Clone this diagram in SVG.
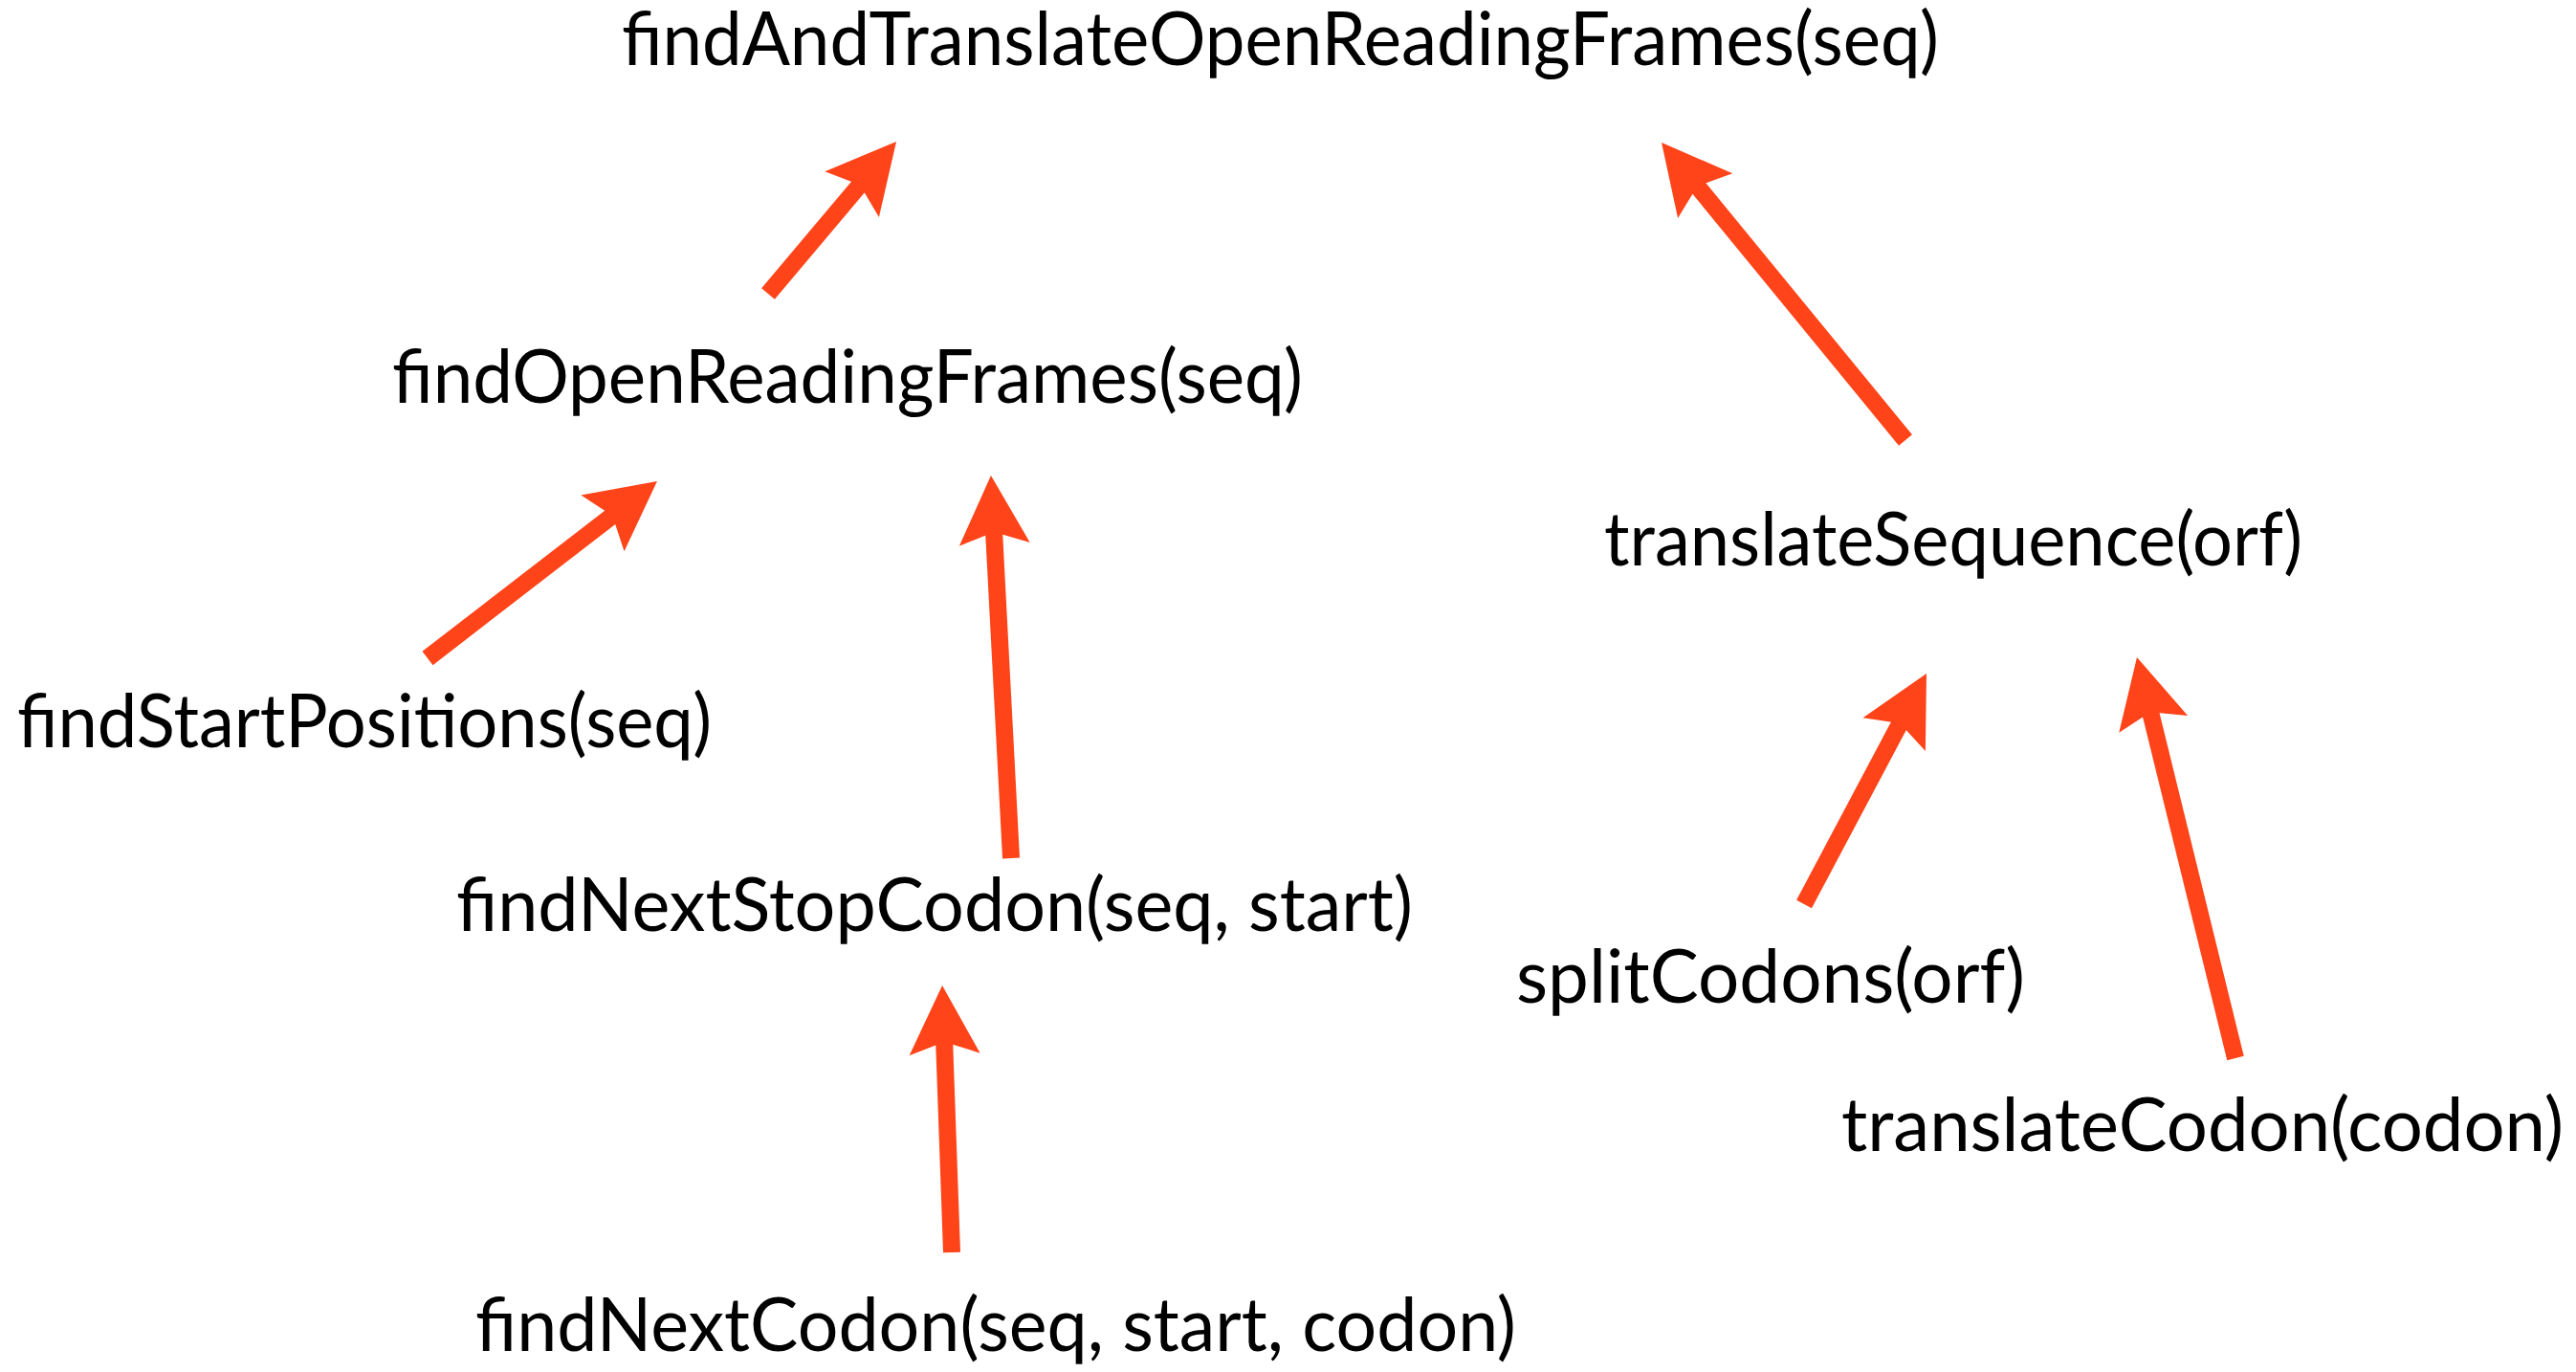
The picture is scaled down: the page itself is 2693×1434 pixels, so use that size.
<svg xmlns="http://www.w3.org/2000/svg" width="2693" height="1434" viewBox="0 0 2693 1434">
<style>
  .lbl { font-family: "Lato", "Liberation Sans", sans-serif; font-size: 78px; fill: #000; }
  .arr { stroke: #FF4419; stroke-width: 18; fill: none; stroke-linecap: butt; }
</style>
<defs>
  <marker id="head" markerUnits="userSpaceOnUse" markerWidth="80" markerHeight="80" refX="20" refY="0" viewBox="0 -40 80 80" orient="auto" overflow="visible">
    <path d="M0,-37 L72,0 L0,37 L13,0 Z" fill="#FF4419"/>
  </marker>
</defs>
<rect width="2693" height="1434" fill="#fff"/>
<g id="connectors">
  <path class="arr" marker-end="url(#head)" d="M803,307 L903.5,187.8"/>
  <path class="arr" marker-end="url(#head)" d="M1992,460 L1770,189.2"/>
  <path class="arr" marker-end="url(#head)" d="M447,688 L645.8,534.7"/>
  <path class="arr" marker-end="url(#head)" d="M1057,897 L1038.7,548.9"/>
  <path class="arr" marker-end="url(#head)" d="M995,1309 L986.9,1082"/>
  <path class="arr" marker-end="url(#head)" d="M1886,945 L1989.6,749.9"/>
  <path class="arr" marker-end="url(#head)" d="M2337,1106 L2246.4,737.5"/>
</g>
<g id="n-findAndTranslate"><text class="lbl" x="650" y="68" textLength="1377" lengthAdjust="spacingAndGlyphs">findAndTranslateOpenReadingFrames(seq)</text></g>
<g id="n-findOpenReadingFrames"><text class="lbl" x="410" y="421" textLength="952" lengthAdjust="spacingAndGlyphs">findOpenReadingFrames(seq)</text></g>
<g id="n-translateSequence"><text class="lbl" x="1677" y="591" textLength="730" lengthAdjust="spacingAndGlyphs">translateSequence(orf)</text></g>
<g id="n-findStartPositions"><text class="lbl" x="18" y="781" textLength="726" lengthAdjust="spacingAndGlyphs">findStartPositions(seq)</text></g>
<g id="n-findNextStopCodon"><text class="lbl" x="477" y="973" textLength="1000" lengthAdjust="spacingAndGlyphs">findNextStopCodon(seq, start)</text></g>
<g id="n-splitCodons"><text class="lbl" x="1585" y="1048" textLength="532" lengthAdjust="spacingAndGlyphs">splitCodons(orf)</text></g>
<g id="n-translateCodon"><text class="lbl" x="1925" y="1203" textLength="755" lengthAdjust="spacingAndGlyphs">translateCodon(codon)</text></g>
<g id="n-findNextCodon"><text class="lbl" x="497" y="1412" textLength="1088" lengthAdjust="spacingAndGlyphs">findNextCodon(seq, start, codon)</text></g>
</svg>
